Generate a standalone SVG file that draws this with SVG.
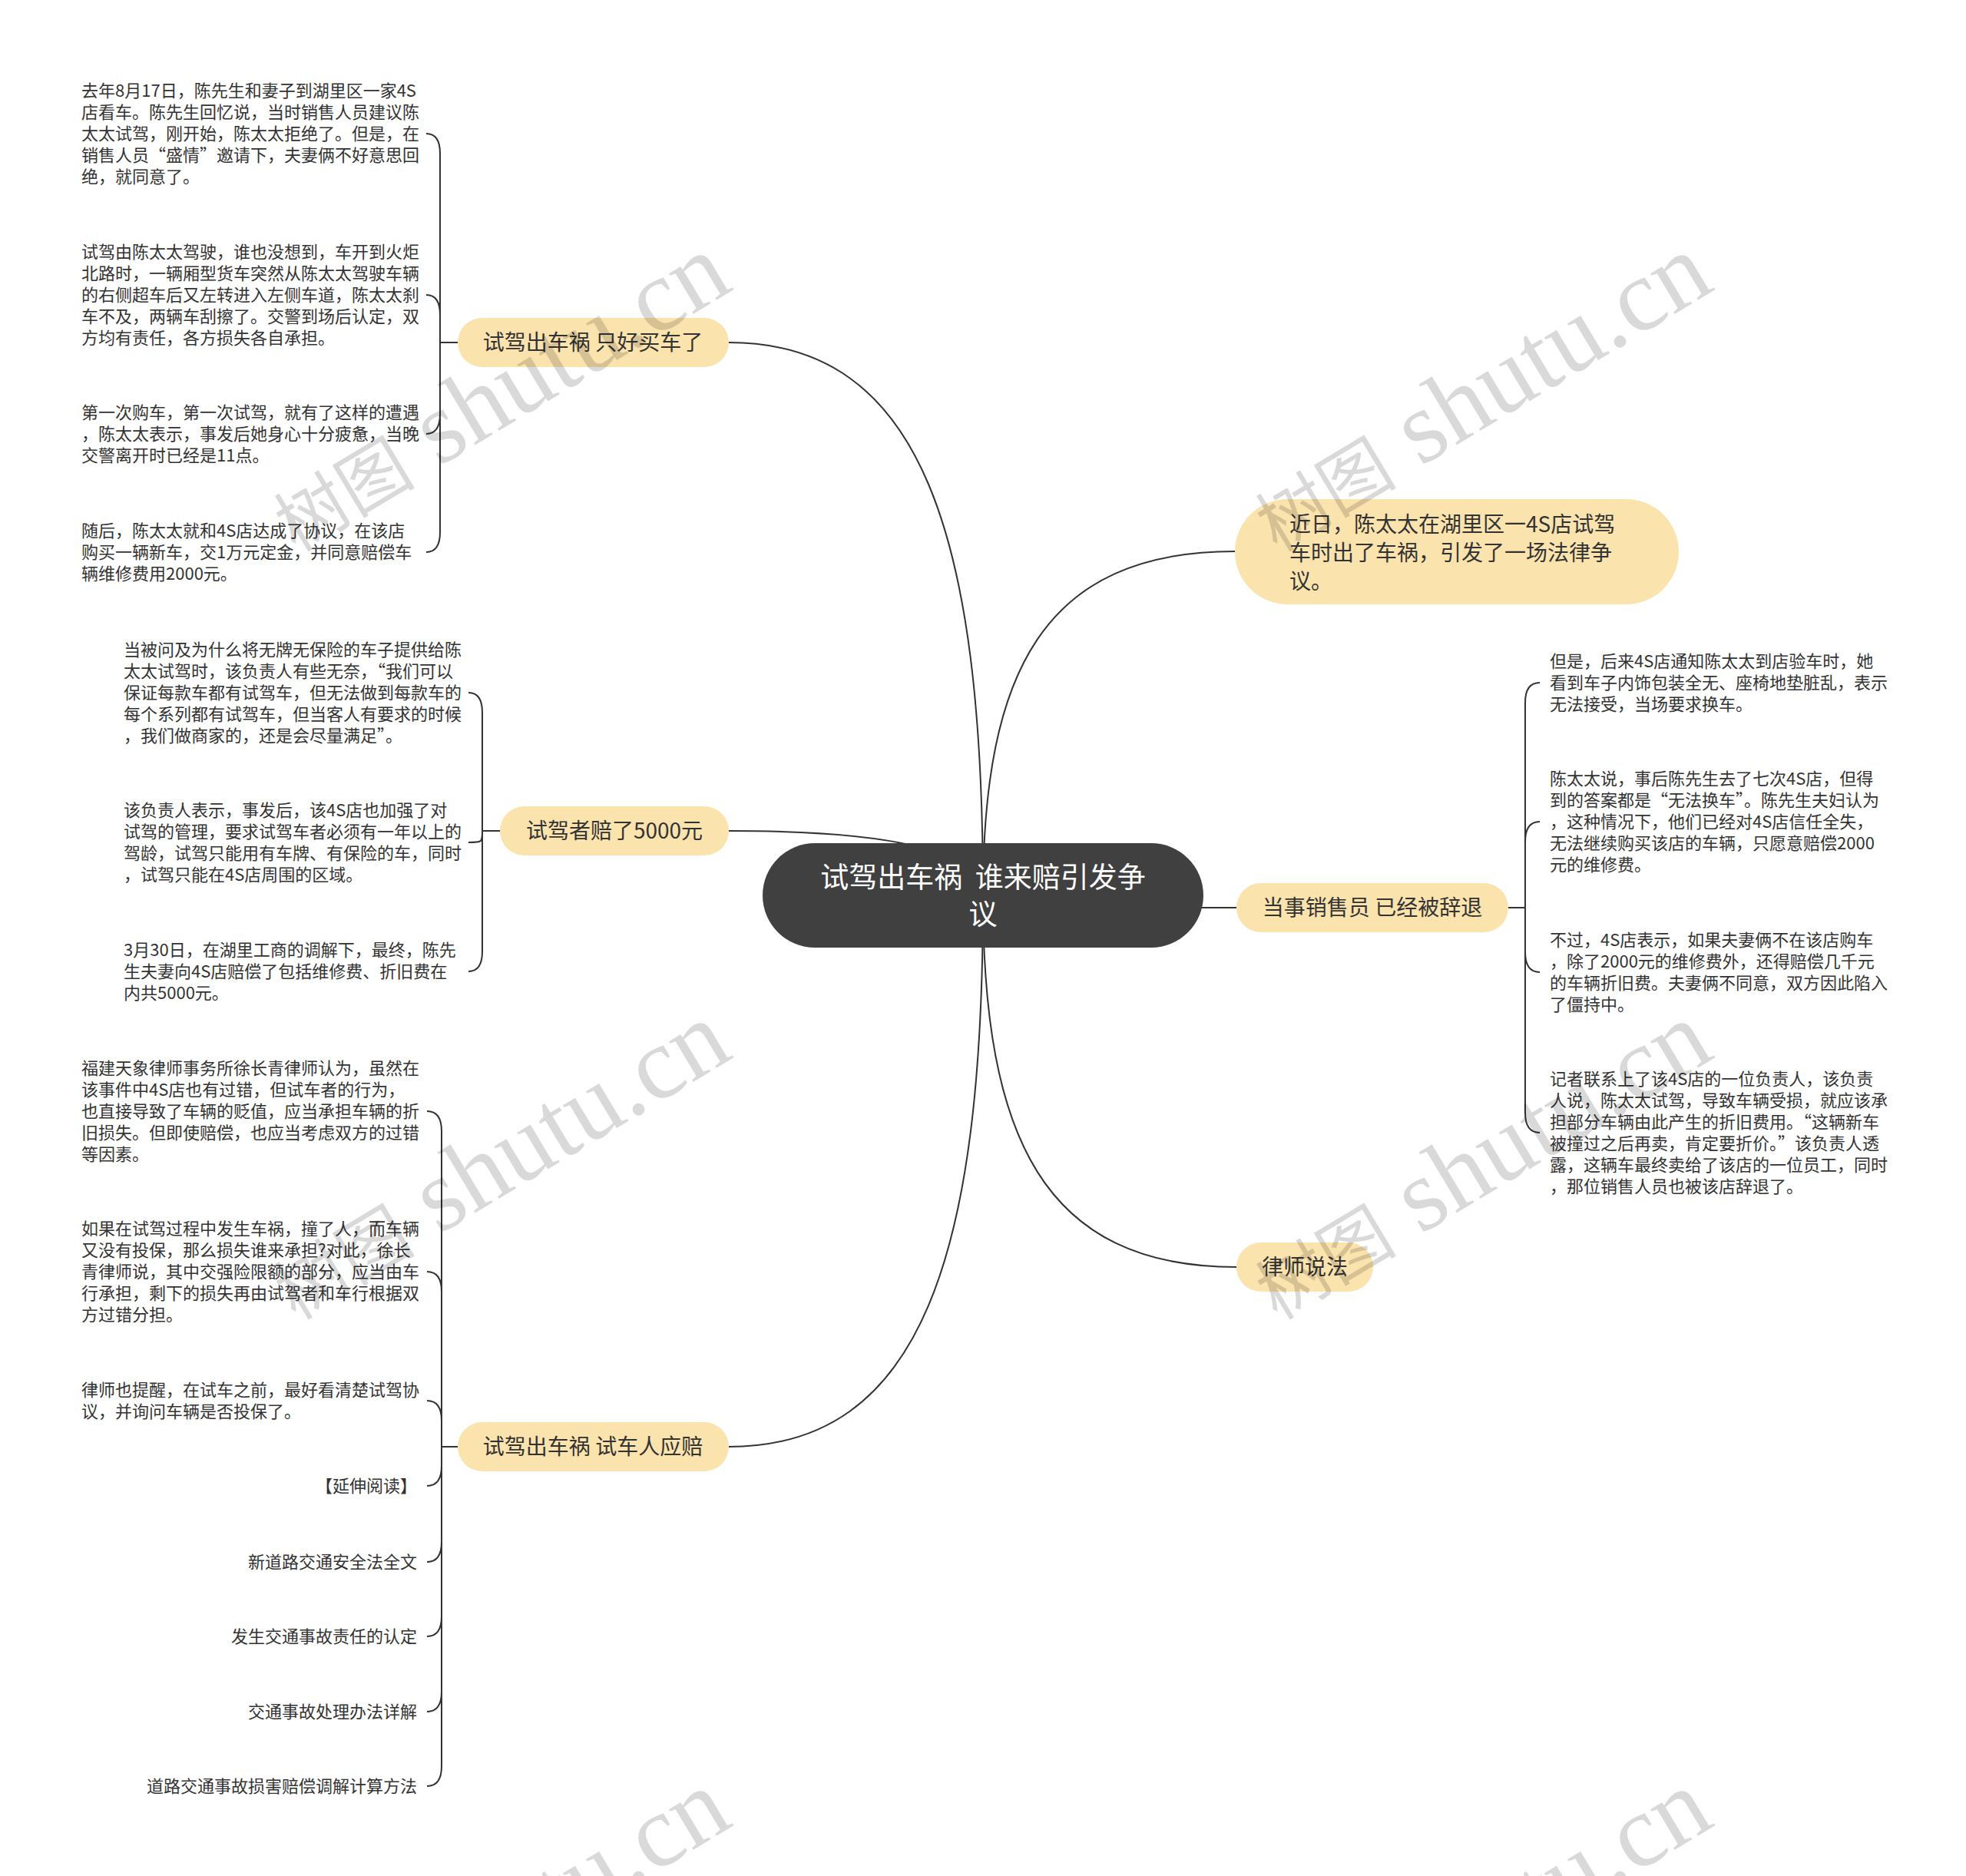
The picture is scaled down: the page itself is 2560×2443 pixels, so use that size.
<svg xmlns="http://www.w3.org/2000/svg" width="2560" height="2443" viewBox="0 0 2560 2443">
<style>
.t{font-family:"Noto Sans CJK SC","Liberation Sans",sans-serif;fill:#333333}
.s{font-size:22px}
.p{font-size:28px}
.pill{fill:#FBE3AE}
.c{fill:none;stroke:#333333;stroke-width:2}
.root{fill:#404040}
.rt{font-family:"Noto Sans CJK SC","Liberation Sans",sans-serif;font-size:37px;fill:#ffffff;white-space:pre}
.wm{font-family:"Liberation Serif","Noto Sans CJK SC",serif;fill:#000000;fill-opacity:0.15}
</style>
<rect width="2560" height="2443" fill="#ffffff"/>

<g id="connectors">
<path class="c" d="M1280 1166 C1280 698 1201 446 949 446"/>
<path class="c" d="M1280 1166 Q1280 1082 949 1082"/>
<path class="c" d="M1280 1166 C1280 1633 1201 1884 949 1884"/>
<path class="c" d="M1280 1166 C1280 875 1359 718 1608 718"/>
<path class="c" d="M1280 1166 C1280 1176 1359 1182 1610 1182"/>
<path class="c" d="M1280 1166 C1280 1481 1359 1650 1610 1650"/>
<!-- group 1 bracket -->
<path class="c" d="M596 446 H573"/>
<path class="c" d="M573 446 V200 Q573 174 555 174"/>
<path class="c" d="M573 446 V410 Q573 384 555 384"/>
<path class="c" d="M573 446 V539 Q573 565 555 565"/>
<path class="c" d="M573 446 V693 Q573 719 555 719"/>
<!-- group 2 bracket -->
<path class="c" d="M651 1082 H628"/>
<path class="c" d="M628 1082 V928 Q628 902 610 902"/>
<path class="c" d="M628 1082 C628 1097 628 1097 610 1097"/>
<path class="c" d="M628 1082 V1239 Q628 1265 610 1265"/>
<!-- group 3 bracket -->
<path class="c" d="M596 1884 H575"/>
<path class="c" d="M575 1884 V1473 Q575 1447 556 1447"/>
<path class="c" d="M575 1884 V1682 Q575 1656 556 1656"/>
<path class="c" d="M575 1884 V1850 Q575 1824 556 1824"/>
<path class="c" d="M575 1884 V1909 Q575 1935 556 1935"/>
<path class="c" d="M575 1884 V2008 Q575 2034 556 2034"/>
<path class="c" d="M575 1884 V2105 Q575 2131 556 2131"/>
<path class="c" d="M575 1884 V2203 Q575 2229 556 2229"/>
<path class="c" d="M575 1884 V2300 Q575 2326 556 2326"/>
<!-- right bracket -->
<path class="c" d="M1964 1182 H1986"/>
<path class="c" d="M1986 1182 V915 Q1986 889 2005 889"/>
<path class="c" d="M1986 1182 V1096 Q1986 1070 2005 1070"/>
<path class="c" d="M1986 1182 V1240 Q1986 1266 2005 1266"/>
<path class="c" d="M1986 1182 V1449 Q1986 1475 2005 1475"/>
</g>

<g id="root">
<rect class="root" x="993" y="1098" width="574" height="136" rx="68"/>
<text class="rt" text-anchor="middle"><tspan x="1280" y="1156">试驾出车祸  谁来赔引发争</tspan><tspan x="1280" y="1204">议</tspan></text>
</g>

<g id="n-maiche">
<rect class="pill" x="596" y="414" width="353" height="64" rx="32"/>
<text class="t p" x="772" y="456" text-anchor="middle">试驾出车祸 只好买车了</text>
</g>
<g id="n-maiche-1">
<text class="t s"><tspan x="106" y="126">去年8月17日，陈先生和妻子到湖里区一家4S</tspan><tspan x="106" y="154">店看车。陈先生回忆说，当时销售人员建议陈</tspan><tspan x="106" y="182">太太试驾，刚开始，陈太太拒绝了。但是，在</tspan><tspan x="106" y="210">销售人员“盛情”邀请下，夫妻俩不好意思回</tspan><tspan x="106" y="238">绝，就同意了。</tspan></text>
</g>
<g id="n-maiche-2">
<text class="t s"><tspan x="106" y="336">试驾由陈太太驾驶，谁也没想到，车开到火炬</tspan><tspan x="106" y="364">北路时，一辆厢型货车突然从陈太太驾驶车辆</tspan><tspan x="106" y="392">的右侧超车后又左转进入左侧车道，陈太太刹</tspan><tspan x="106" y="420">车不及，两辆车刮擦了。交警到场后认定，双</tspan><tspan x="106" y="448">方均有责任，各方损失各自承担。</tspan></text>
</g>
<g id="n-maiche-3">
<text class="t s"><tspan x="106" y="545">第一次购车，第一次试驾，就有了这样的遭遇</tspan><tspan x="106" y="573">，陈太太表示，事发后她身心十分疲惫，当晚</tspan><tspan x="106" y="601">交警离开时已经是11点。</tspan></text>
</g>
<g id="n-maiche-4">
<text class="t s"><tspan x="106" y="699">随后，陈太太就和4S店达成了协议，在该店</tspan><tspan x="106" y="727">购买一辆新车，交1万元定金，并同意赔偿车</tspan><tspan x="106" y="755">辆维修费用2000元。</tspan></text>
</g>

<g id="n-5000">
<rect class="pill" x="651" y="1050" width="298" height="64" rx="32"/>
<text class="t p" x="800" y="1092" text-anchor="middle">试驾者赔了5000元</text>
</g>
<g id="n-5000-1">
<text class="t s"><tspan x="161" y="854">当被问及为什么将无牌无保险的车子提供给陈</tspan><tspan x="161" y="882">太太试驾时，该负责人有些无奈，“我们可以</tspan><tspan x="161" y="910">保证每款车都有试驾车，但无法做到每款车的</tspan><tspan x="161" y="938">每个系列都有试驾车，但当客人有要求的时候</tspan><tspan x="161" y="966">，我们做商家的，还是会尽量满足”。</tspan></text>
</g>
<g id="n-5000-2">
<text class="t s"><tspan x="161" y="1063">该负责人表示，事发后，该4S店也加强了对</tspan><tspan x="161" y="1091">试驾的管理，要求试驾车者必须有一年以上的</tspan><tspan x="161" y="1119">驾龄，试驾只能用有车牌、有保险的车，同时</tspan><tspan x="161" y="1147">，试驾只能在4S店周围的区域。</tspan></text>
</g>
<g id="n-5000-3">
<text class="t s"><tspan x="161" y="1245">3月30日，在湖里工商的调解下，最终，陈先</tspan><tspan x="161" y="1273">生夫妻向4S店赔偿了包括维修费、折旧费在</tspan><tspan x="161" y="1301">内共5000元。</tspan></text>
</g>

<g id="n-shiche">
<rect class="pill" x="596" y="1852" width="353" height="64" rx="32"/>
<text class="t p" x="772" y="1894" text-anchor="middle">试驾出车祸 试车人应赔</text>
</g>
<g id="n-shiche-1">
<text class="t s"><tspan x="106" y="1399">福建天象律师事务所徐长青律师认为，虽然在</tspan><tspan x="106" y="1427">该事件中4S店也有过错，但试车者的行为，</tspan><tspan x="106" y="1455">也直接导致了车辆的贬值，应当承担车辆的折</tspan><tspan x="106" y="1483">旧损失。但即使赔偿，也应当考虑双方的过错</tspan><tspan x="106" y="1511">等因素。</tspan></text>
</g>
<g id="n-shiche-2">
<text class="t s"><tspan x="106" y="1608">如果在试驾过程中发生车祸，撞了人，而车辆</tspan><tspan x="106" y="1636">又没有投保，那么损失谁来承担?对此，徐长</tspan><tspan x="106" y="1664">青律师说，其中交强险限额的部分，应当由车</tspan><tspan x="106" y="1692">行承担，剩下的损失再由试驾者和车行根据双</tspan><tspan x="106" y="1720">方过错分担。</tspan></text>
</g>
<g id="n-shiche-3">
<text class="t s"><tspan x="106" y="1818">律师也提醒，在试车之前，最好看清楚试驾协</tspan><tspan x="106" y="1846">议，并询问车辆是否投保了。</tspan></text>
</g>
<g id="n-shiche-4"><text class="t s" x="543" y="1943" text-anchor="end">【延伸阅读】</text></g>
<g id="n-shiche-5"><text class="t s" x="543" y="2042" text-anchor="end">新道路交通安全法全文</text></g>
<g id="n-shiche-6"><text class="t s" x="543" y="2139" text-anchor="end">发生交通事故责任的认定</text></g>
<g id="n-shiche-7"><text class="t s" x="543" y="2237" text-anchor="end">交通事故处理办法详解</text></g>
<g id="n-shiche-8"><text class="t s" x="543" y="2334" text-anchor="end">道路交通事故损害赔偿调解计算方法</text></g>

<g id="n-jinri">
<rect class="pill" x="1608" y="650" width="578" height="137" rx="68.5"/>
<text class="t p"><tspan x="1679" y="693">近日，陈太太在湖里区一4S店试驾</tspan><tspan x="1679" y="730">车时出了车祸，引发了一场法律争</tspan><tspan x="1679" y="767">议。</tspan></text>
</g>

<g id="n-citui">
<rect class="pill" x="1610" y="1150" width="354" height="64" rx="32"/>
<text class="t p" x="1787" y="1192" text-anchor="middle">当事销售员 已经被辞退</text>
</g>
<g id="n-citui-1">
<text class="t s"><tspan x="2018" y="869">但是，后来4S店通知陈太太到店验车时，她</tspan><tspan x="2018" y="897">看到车子内饰包装全无、座椅地垫脏乱，表示</tspan><tspan x="2018" y="925">无法接受，当场要求换车。</tspan></text>
</g>
<g id="n-citui-2">
<text class="t s"><tspan x="2018" y="1022">陈太太说，事后陈先生去了七次4S店，但得</tspan><tspan x="2018" y="1050">到的答案都是“无法换车”。陈先生夫妇认为</tspan><tspan x="2018" y="1078">，这种情况下，他们已经对4S店信任全失，</tspan><tspan x="2018" y="1106">无法继续购买该店的车辆，只愿意赔偿2000</tspan><tspan x="2018" y="1134">元的维修费。</tspan></text>
</g>
<g id="n-citui-3">
<text class="t s"><tspan x="2018" y="1232">不过，4S店表示，如果夫妻俩不在该店购车</tspan><tspan x="2018" y="1260">，除了2000元的维修费外，还得赔偿几千元</tspan><tspan x="2018" y="1288">的车辆折旧费。夫妻俩不同意，双方因此陷入</tspan><tspan x="2018" y="1316">了僵持中。</tspan></text>
</g>
<g id="n-citui-4">
<text class="t s"><tspan x="2018" y="1413">记者联系上了该4S店的一位负责人，该负责</tspan><tspan x="2018" y="1441">人说，陈太太试驾，导致车辆受损，就应该承</tspan><tspan x="2018" y="1469">担部分车辆由此产生的折旧费用。“这辆新车</tspan><tspan x="2018" y="1497">被撞过之后再卖，肯定要折价。”该负责人透</tspan><tspan x="2018" y="1525">露，这辆车最终卖给了该店的一位员工，同时</tspan><tspan x="2018" y="1553">，那位销售人员也被该店辞退了。</tspan></text>
</g>

<g id="n-lvshi">
<rect class="pill" x="1610" y="1618" width="178" height="64" rx="32"/>
<text class="t p" x="1699" y="1660" text-anchor="middle">律师说法</text>
</g>

<g id="watermark">
<text class="wm" transform="translate(385 720) rotate(-31)"><tspan font-size="92">树图</tspan><tspan font-size="134"> shutu.cn</tspan></text>
<text class="wm" transform="translate(1663 720) rotate(-31)"><tspan font-size="92">树图</tspan><tspan font-size="134"> shutu.cn</tspan></text>
<text class="wm" transform="translate(385 1720) rotate(-31)"><tspan font-size="92">树图</tspan><tspan font-size="134"> shutu.cn</tspan></text>
<text class="wm" transform="translate(1663 1720) rotate(-31)"><tspan font-size="92">树图</tspan><tspan font-size="134"> shutu.cn</tspan></text>
<text class="wm" transform="translate(385 2720) rotate(-31)"><tspan font-size="92">树图</tspan><tspan font-size="134"> shutu.cn</tspan></text>
<text class="wm" transform="translate(1663 2720) rotate(-31)"><tspan font-size="92">树图</tspan><tspan font-size="134"> shutu.cn</tspan></text>
</g>
</svg>
